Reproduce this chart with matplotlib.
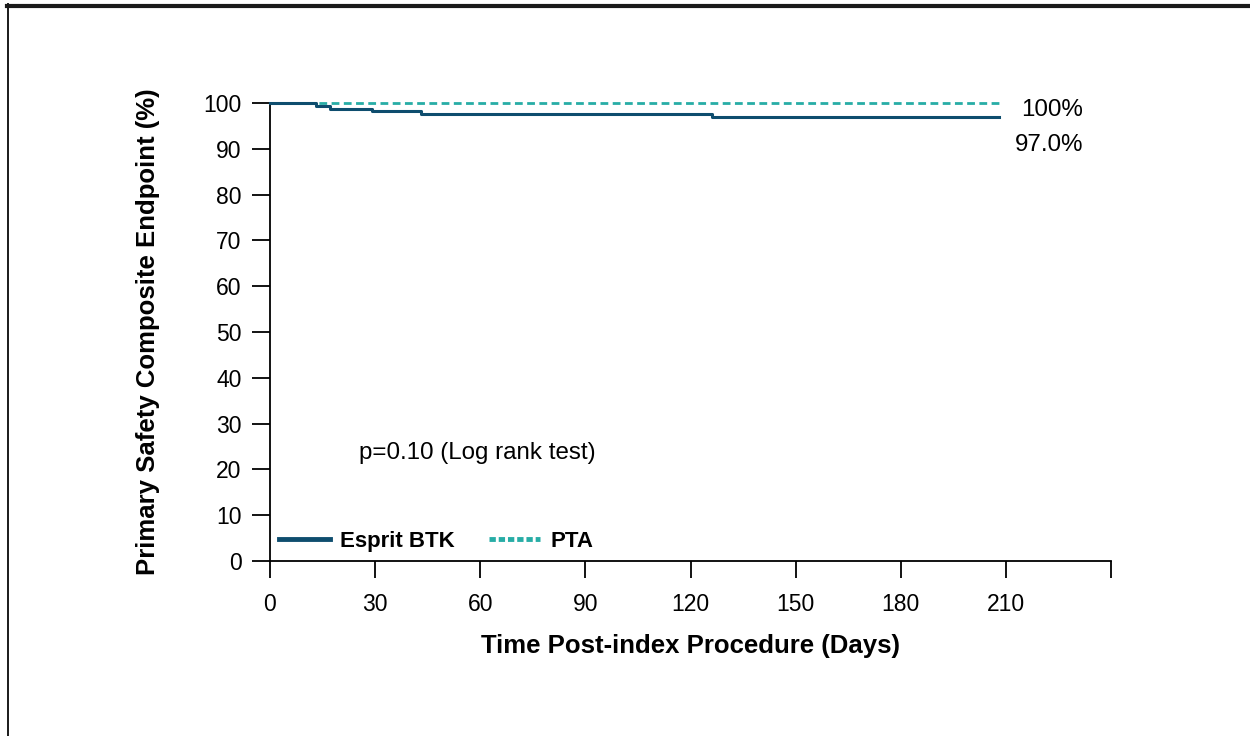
import matplotlib
matplotlib.use("Agg")
import matplotlib.pyplot as plt
from matplotlib.lines import Line2D

plt.rcParams['font.family'] = ['Liberation Sans', 'DejaVu Sans']

# Data
esprit_days = [0, 13, 17, 29, 43, 126, 208]
esprit_surv = [100, 99.4, 98.8, 98.2, 97.6, 97.0, 97.0]
pta_days = [0, 208]
pta_surv = [100, 100]
x_ticks = [0, 30, 60, 90, 120, 150, 180, 210, 240]
x_tick_labels = ['0', '30', '60', '90', '120', '150', '180', '210', '']
y_ticks = [0, 10, 20, 30, 40, 50, 60, 70, 80, 90, 100]
series_names = ['Esprit BTK', 'PTA']
end_labels = ['100%', '97.0%']
p_text = 'p=0.10 (Log rank test)'

c_esprit = '#0e4d6e'
c_pta = '#27ada6'

fig = plt.figure(figsize=(12.5, 7.36), dpi=100)
ax = fig.add_axes([0.216, 0.2378, 0.8888 - 0.216, 0.86 - 0.2378])

ax.step(pta_days, pta_surv, where='post', color=c_pta, lw=2.0,
        dashes=(2.8, 1.6), clip_on=False, label=series_names[1], zorder=2)
ax.step(esprit_days, esprit_surv, where='post', color=c_esprit, lw=2.2,
        clip_on=False, label=series_names[0], zorder=3)

ax.set_xlim(0, 240)
ax.set_ylim(0, 100)
ax.set_xticks(x_ticks)
ax.set_xticklabels(x_tick_labels)
ax.set_yticks(y_ticks)
for s in ['top', 'right']:
    ax.spines[s].set_visible(False)
for s in ['left', 'bottom']:
    ax.spines[s].set_linewidth(1.3)
ax.tick_params(axis='x', direction='out', length=12, width=1.3, labelsize=16.5, pad=11)
ax.tick_params(axis='y', direction='out', length=13, width=1.3, labelsize=16.5, pad=7.5)

ax.set_xlabel('Time Post-index Procedure (Days)', fontsize=18.5, fontweight='bold', labelpad=13)
ax.set_ylabel('Primary Safety Composite Endpoint (%)', fontsize=18.5, fontweight='bold', labelpad=31)

handles = [Line2D([], [], color=c_esprit, lw=3.5),
           Line2D([], [], color=c_pta, lw=3.5, dashes=(1.3, 0.6))]
leg = ax.legend(handles, series_names, loc='lower left', ncol=2, frameon=False,
                prop={'weight': 'bold', 'size': 16}, handlelength=2.3, handletextpad=0.45,
                columnspacing=1.55, bbox_to_anchor=(0.0, 0.0), borderaxespad=0.0)

ax.text(25.5, 23.6, p_text, fontsize=17.4, va='center', ha='left')
ax.text(232, 98.5, end_labels[0], fontsize=17.4, va='center', ha='right', clip_on=False)
ax.text(232, 90.8, end_labels[1], fontsize=17.4, va='center', ha='right', clip_on=False)

# Frame lines around figure (top bar and left edge)
fig.add_artist(Line2D([7 / 1250, 1.0], [1 - 6 / 736, 1 - 6 / 736], color='#1a1a1a', lw=3.0,
                      transform=fig.transFigure))
fig.add_artist(Line2D([8 / 1250, 8 / 1250], [0, 1 - 4 / 736], color='#1a1a1a', lw=1.4,
                      transform=fig.transFigure))

fig.savefig('out.png', dpi=100)
